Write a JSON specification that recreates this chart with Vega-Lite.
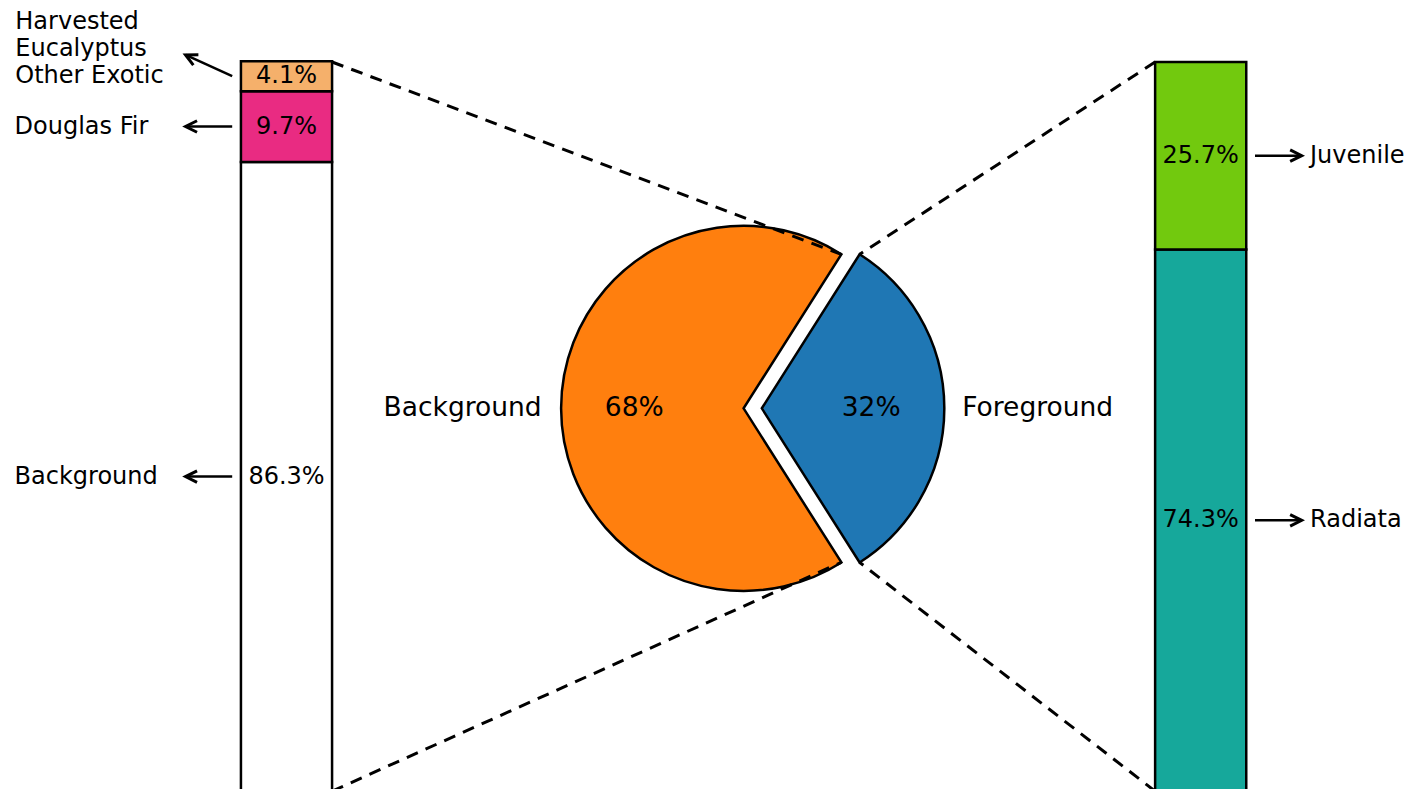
{
  "$schema": "https://vega.github.io/schema/vega-lite/v6.json",
  "width": 1407,
  "height": 789,
  "autosize": {"type": "none"},
  "padding": 0,
  "background": "white",
  "config": {
    "view": {"stroke": null},
    "axis": {"disable": true},
    "legend": {"disable": true},
    "text": {"font": "DejaVu Sans", "color": "black"}
  },
  "datasets": {
    "pie": [
      {"label": "Background", "pct": 0.68},
      {"label": "Foreground", "pct": 0.32}
    ],
    "breakdown": [
      {"parent": "Background", "category": "Background", "pct": 0.863},
      {"parent": "Background", "category": "Douglas Fir", "pct": 0.097},
      {"parent": "Background", "category": "Harvested\nEucalyptus\nOther Exotic", "pct": 0.041},
      {"parent": "Foreground", "category": "Radiata", "pct": 0.743},
      {"parent": "Foreground", "category": "Juvenile", "pct": 0.257}
    ],
    "one": [{}]
  },
  "layer": [
    {
      "data": {"name": "breakdown"},
      "transform": [
        {"filter": "datum.parent == 'Background'"},
        {"stack": "pct", "groupby": ["parent"], "sort": [{"field": "pct", "order": "descending"}], "as": ["y0", "y1"]}
      ],
      "mark": {"type": "rect", "stroke": "black", "strokeWidth": 2.5},
      "encoding": {
        "x": {"datum": -0.6895, "type": "quantitative", "scale": {"domain": [-1.02, 0.91], "nice": false, "zero": false}},
        "x2": {"datum": -0.5645},
        "y": {"field": "y0", "type": "quantitative", "scale": {"domain": [0.003, 1.085], "nice": false, "zero": false}},
        "y2": {"field": "y1"},
        "color": {"field": "category", "type": "nominal", "scale": {"domain": ["Background", "Douglas Fir", "Harvested\nEucalyptus\nOther Exotic", "Juvenile", "Radiata"], "range": ["#ffffff", "#e92b82", "#f5b06b", "#72c90e", "#16a89b"]}}
      }
    },
    {
      "data": {"name": "breakdown"},
      "transform": [
        {"filter": "datum.parent == 'Foreground'"},
        {"stack": "pct", "groupby": ["parent"], "sort": [{"field": "pct", "order": "descending"}], "as": ["y0", "y1"]}
      ],
      "mark": {"type": "rect", "stroke": "black", "strokeWidth": 2.5},
      "encoding": {
        "x": {"datum": 0.5645, "type": "quantitative", "scale": {"domain": [-1.02, 0.91], "nice": false, "zero": false}},
        "x2": {"datum": 0.6895},
        "y": {"field": "y0", "type": "quantitative", "scale": {"domain": [0.003, 1.085], "nice": false, "zero": false}},
        "y2": {"field": "y1"},
        "color": {"field": "category", "type": "nominal", "scale": {"domain": ["Background", "Douglas Fir", "Harvested\nEucalyptus\nOther Exotic", "Juvenile", "Radiata"], "range": ["#ffffff", "#e92b82", "#f5b06b", "#72c90e", "#16a89b"]}}
      }
    },
    {
      "data": {"name": "pie"},
      "transform": [
        {"stack": "pct", "groupby": [], "sort": [{"field": "label", "order": "descending"}], "as": ["t0", "t1"]},
        {"filter": "datum.label == 'Background'"}
      ],
      "mark": {"type": "arc", "radius": 182.5, "fill": "#ff7f0e", "stroke": "black", "strokeWidth": 2.5},
      "encoding": {
        "x": {"datum": 0, "type": "quantitative"},
        "y": {"datum": 0.525, "type": "quantitative"},
        "theta": {"field": "t0", "type": "quantitative", "scale": {"domain": [0, 1], "range": [0.5655, 6.8487]}},
        "theta2": {"field": "t1"}
      }
    },
    {
      "data": {"name": "pie"},
      "transform": [
        {"stack": "pct", "groupby": [], "sort": [{"field": "label", "order": "descending"}], "as": ["t0", "t1"]},
        {"filter": "datum.label == 'Foreground'"}
      ],
      "mark": {"type": "arc", "radius": 182.5, "fill": "#1f77b4", "stroke": "black", "strokeWidth": 2.5},
      "encoding": {
        "x": {"datum": 0.025, "type": "quantitative"},
        "y": {"datum": 0.525, "type": "quantitative"},
        "theta": {"field": "t0", "type": "quantitative", "scale": {"domain": [0, 1], "range": [0.5655, 6.8487]}},
        "theta2": {"field": "t1"}
      }
    },
    {
      "data": {"name": "one"},
      "mark": {"type": "rule", "color": "black", "strokeWidth": 3, "strokeDash": [12, 8.5]},
      "encoding": {
        "x": {"datum": -0.5645, "type": "quantitative"}, "y": {"datum": 1.0, "type": "quantitative"},
        "x2": {"datum": 0.134}, "y2": {"datum": 0.7361}
      }
    },
    {
      "data": {"name": "one"},
      "mark": {"type": "rule", "color": "black", "strokeWidth": 3, "strokeDash": [12, 8.5]},
      "encoding": {
        "x": {"datum": -0.5645, "type": "quantitative"}, "y": {"datum": 0.0, "type": "quantitative"},
        "x2": {"datum": 0.134}, "y2": {"datum": 0.3139}
      }
    },
    {
      "data": {"name": "one"},
      "mark": {"type": "rule", "color": "black", "strokeWidth": 3, "strokeDash": [12, 8.5]},
      "encoding": {
        "x": {"datum": 0.5645, "type": "quantitative"}, "y": {"datum": 1.0, "type": "quantitative"},
        "x2": {"datum": 0.159}, "y2": {"datum": 0.7361}
      }
    },
    {
      "data": {"name": "one"},
      "mark": {"type": "rule", "color": "black", "strokeWidth": 3, "strokeDash": [12, 8.5]},
      "encoding": {
        "x": {"datum": 0.5645, "type": "quantitative"}, "y": {"datum": 0.0, "type": "quantitative"},
        "x2": {"datum": 0.159}, "y2": {"datum": 0.3139}
      }
    },
    {
      "data": {"name": "pie"},
      "transform": [{"filter": "datum.label == 'Background'"}],
      "mark": {"type": "text", "fontSize": 26.5, "align": "center", "baseline": "middle"},
      "encoding": {
        "x": {"datum": -0.15, "type": "quantitative"},
        "y": {"datum": 0.525, "type": "quantitative"},
        "text": {"field": "pct", "type": "quantitative", "format": ".0%"}
      }
    },
    {
      "data": {"name": "pie"},
      "transform": [{"filter": "datum.label == 'Foreground'"}],
      "mark": {"type": "text", "fontSize": 26.5, "align": "center", "baseline": "middle"},
      "encoding": {
        "x": {"datum": 0.175, "type": "quantitative"},
        "y": {"datum": 0.525, "type": "quantitative"},
        "text": {"field": "pct", "type": "quantitative", "format": ".0%"}
      }
    },
    {
      "data": {"name": "pie"},
      "transform": [{"filter": "datum.label == 'Background'"}],
      "mark": {"type": "text", "fontSize": 26.5, "align": "right", "baseline": "middle"},
      "encoding": {
        "x": {"datum": -0.277, "type": "quantitative"},
        "y": {"datum": 0.525, "type": "quantitative"},
        "text": {"field": "label"}
      }
    },
    {
      "data": {"name": "pie"},
      "transform": [{"filter": "datum.label == 'Foreground'"}],
      "mark": {"type": "text", "fontSize": 26.5, "align": "left", "baseline": "middle"},
      "encoding": {
        "x": {"datum": 0.3, "type": "quantitative"},
        "y": {"datum": 0.525, "type": "quantitative"},
        "text": {"field": "label"}
      }
    },
    {
      "data": {"name": "breakdown"},
      "transform": [
        {"filter": "datum.parent == 'Background'"},
        {"stack": "pct", "groupby": ["parent"], "sort": [{"field": "pct", "order": "descending"}], "as": ["y0", "y1"]},
        {"fold": ["y0", "y1"], "as": ["edge", "yv"]},
        {"aggregate": [{"op": "mean", "field": "yv", "as": "ymid"}], "groupby": ["parent", "category", "pct"]}
      ],
      "mark": {"type": "text", "fontSize": 24, "align": "center", "baseline": "middle"},
      "encoding": {
        "x": {"datum": -0.627, "type": "quantitative"},
        "y": {"field": "ymid", "type": "quantitative"},
        "text": {"field": "pct", "type": "quantitative", "format": ".1%"}
      }
    },
    {
      "data": {"name": "breakdown"},
      "transform": [
        {"filter": "datum.parent == 'Foreground'"},
        {"stack": "pct", "groupby": ["parent"], "sort": [{"field": "pct", "order": "descending"}], "as": ["y0", "y1"]},
        {"fold": ["y0", "y1"], "as": ["edge", "yv"]},
        {"aggregate": [{"op": "mean", "field": "yv", "as": "ymid"}], "groupby": ["parent", "category", "pct"]}
      ],
      "mark": {"type": "text", "fontSize": 24, "align": "center", "baseline": "middle"},
      "encoding": {
        "x": {"datum": 0.627, "type": "quantitative"},
        "y": {"field": "ymid", "type": "quantitative"},
        "text": {"field": "pct", "type": "quantitative", "format": ".1%"}
      }
    },
    {
      "data": {"name": "breakdown"},
      "transform": [
        {"filter": "datum.parent == 'Background'"},
        {"stack": "pct", "groupby": ["parent"], "sort": [{"field": "pct", "order": "descending"}], "as": ["y0", "y1"]},
        {"fold": ["y0", "y1"], "as": ["edge", "yv"]},
        {"aggregate": [{"op": "mean", "field": "yv", "as": "ymid"}], "groupby": ["parent", "category", "pct"]},
        {"filter": "datum.category == 'Background' || datum.category == 'Douglas Fir'"}
      ],
      "mark": {"type": "text", "fontSize": 24, "align": "left", "baseline": "middle"},
      "encoding": {
        "x": {"datum": -1.0, "type": "quantitative"},
        "y": {"field": "ymid", "type": "quantitative"},
        "text": {"field": "category"}
      }
    },
    {
      "data": {"name": "breakdown"},
      "transform": [{"filter": "datum.parent == 'Background' && datum.category != 'Background' && datum.category != 'Douglas Fir'"}],
      "mark": {"type": "text", "fontSize": 24, "align": "left", "baseline": "middle", "lineBreak": "\n", "lineHeight": 27},
      "encoding": {
        "x": {"datum": -0.999, "type": "quantitative"},
        "y": {"datum": 1.055, "type": "quantitative"},
        "text": {"field": "category"}
      }
    },
    {
      "data": {"name": "breakdown"},
      "transform": [
        {"filter": "datum.parent == 'Foreground'"},
        {"stack": "pct", "groupby": ["parent"], "sort": [{"field": "pct", "order": "descending"}], "as": ["y0", "y1"]},
        {"fold": ["y0", "y1"], "as": ["edge", "yv"]},
        {"aggregate": [{"op": "mean", "field": "yv", "as": "ymid"}], "groupby": ["parent", "category", "pct"]}
      ],
      "mark": {"type": "text", "fontSize": 24, "align": "left", "baseline": "middle"},
      "encoding": {
        "x": {"datum": 0.777, "type": "quantitative"},
        "y": {"field": "ymid", "type": "quantitative"},
        "text": {"field": "category"}
      }
    },
    {
      "data": {"name": "breakdown"},
      "transform": [
        {"filter": "datum.parent == 'Background'"},
        {"stack": "pct", "groupby": ["parent"], "sort": [{"field": "pct", "order": "descending"}], "as": ["y0", "y1"]},
        {"fold": ["y0", "y1"], "as": ["edge", "yv"]},
        {"aggregate": [{"op": "mean", "field": "yv", "as": "ymid"}], "groupby": ["parent", "category", "pct"]},
        {"filter": "datum.category == 'Background' || datum.category == 'Douglas Fir'"}
      ],
      "layer": [
        {
          "mark": {"type": "rule", "color": "black", "strokeWidth": 2.5},
          "encoding": {
            "x": {"datum": -0.7015, "type": "quantitative"},
            "x2": {"datum": -0.7655},
            "y": {"field": "ymid", "type": "quantitative"}
          }
        },
        {
          "mark": {"type": "point", "shape": "M 1 -0.5 L 0 0 L 1 0.5", "filled": false, "size": 529, "stroke": "black", "strokeWidth": 3, "opacity": 1},
          "encoding": {
            "x": {"datum": -0.7655, "type": "quantitative"},
            "y": {"field": "ymid", "type": "quantitative"}
          }
        }
      ]
    },
    {
      "data": {"name": "breakdown"},
      "transform": [
        {"filter": "datum.parent == 'Background'"},
        {"stack": "pct", "groupby": ["parent"], "sort": [{"field": "pct", "order": "descending"}], "as": ["y0", "y1"]},
        {"fold": ["y0", "y1"], "as": ["edge", "yv"]},
        {"aggregate": [{"op": "mean", "field": "yv", "as": "ymid"}], "groupby": ["parent", "category", "pct"]},
        {"filter": "datum.category != 'Background' && datum.category != 'Douglas Fir'"}
      ],
      "layer": [
        {
          "mark": {"type": "rule", "color": "black", "strokeWidth": 2.5},
          "encoding": {
            "x": {"datum": -0.7015, "type": "quantitative"},
            "x2": {"datum": -0.7655},
            "y": {"field": "ymid", "type": "quantitative"},
            "y2": {"datum": 1.0096}
          }
        },
        {
          "mark": {"type": "point", "shape": "M 1 -0.5 L 0 0 L 1 0.5", "filled": false, "size": 529, "stroke": "black", "strokeWidth": 3, "opacity": 1, "angle": 26},
          "encoding": {
            "x": {"datum": -0.7655, "type": "quantitative"},
            "y": {"datum": 1.0096, "type": "quantitative"}
          }
        }
      ]
    },
    {
      "data": {"name": "breakdown"},
      "transform": [
        {"filter": "datum.parent == 'Foreground'"},
        {"stack": "pct", "groupby": ["parent"], "sort": [{"field": "pct", "order": "descending"}], "as": ["y0", "y1"]},
        {"fold": ["y0", "y1"], "as": ["edge", "yv"]},
        {"aggregate": [{"op": "mean", "field": "yv", "as": "ymid"}], "groupby": ["parent", "category", "pct"]}
      ],
      "layer": [
        {
          "mark": {"type": "rule", "color": "black", "strokeWidth": 2.5},
          "encoding": {
            "x": {"datum": 0.7015, "type": "quantitative"},
            "x2": {"datum": 0.7655},
            "y": {"field": "ymid", "type": "quantitative"}
          }
        },
        {
          "mark": {"type": "point", "shape": "M 1 -0.5 L 0 0 L 1 0.5", "filled": false, "size": 529, "stroke": "black", "strokeWidth": 3, "opacity": 1, "angle": 180},
          "encoding": {
            "x": {"datum": 0.7655, "type": "quantitative"},
            "y": {"field": "ymid", "type": "quantitative"}
          }
        }
      ]
    }
  ]
}
